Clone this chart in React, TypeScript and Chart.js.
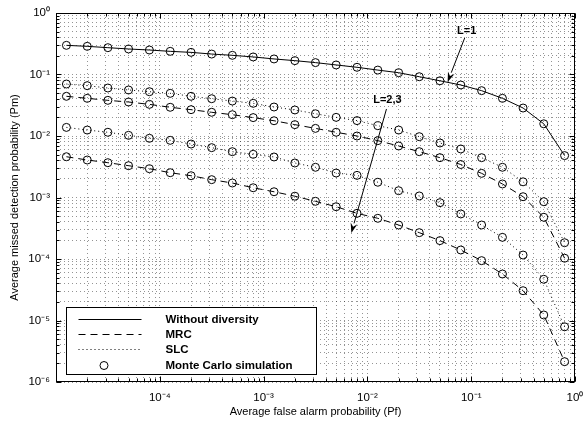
import React, { useEffect, useRef } from 'react';
import { Chart, registerables } from 'chart.js';

Chart.register(...registerables);

// Average false alarm probability (Pf) — sample points
const pf = [
  1.26e-5, 2.0e-5, 3.16e-5, 5.0e-5, 7.94e-5,
  1.26e-4, 2.0e-4, 3.16e-4, 5.0e-4, 7.94e-4,
  1.26e-3, 2.0e-3, 3.16e-3, 5.0e-3, 7.94e-3,
  1.26e-2, 2.0e-2, 3.16e-2, 5.0e-2, 7.94e-2,
  0.126, 0.2, 0.316, 0.5, 0.794,
];

// Average missed detection probability (Pm)
const pmWithoutDiversity = [
  0.298, 0.287, 0.273, 0.26, 0.25, 0.238, 0.229, 0.215, 0.205, 0.193,
  0.179, 0.168, 0.156, 0.143, 0.131, 0.118, 0.107, 0.092, 0.079, 0.0675,
  0.0546, 0.041, 0.0285, 0.0158, 0.0048,
];
const pmMrcL2 = [
  0.0442, 0.041, 0.038, 0.0357, 0.0327, 0.0293, 0.0268, 0.0243, 0.0222, 0.0199,
  0.0177, 0.0153, 0.0133, 0.0115, 0.01, 0.0084, 0.00688, 0.00556, 0.00444, 0.00344,
  0.00247, 0.00166, 0.00103, 0.000477, 0.000103,
];
const pmSlcL2 = [
  0.07, 0.0658, 0.0603, 0.056, 0.0525, 0.0494, 0.0442, 0.0404, 0.037, 0.034,
  0.0296, 0.0265, 0.023, 0.0201, 0.0178, 0.0147, 0.0125, 0.00975, 0.0077, 0.00615,
  0.00444, 0.0031, 0.0018, 0.000855, 0.000184,
];
const pmMrcL3 = [
  0.0046, 0.00407, 0.00368, 0.00329, 0.00294, 0.00253, 0.00226, 0.00195, 0.00172, 0.00144,
  0.00124, 0.00105, 0.000867, 0.000708, 0.000553, 0.000459, 0.000357, 0.000268, 0.000199, 0.00014,
  0.000094, 0.000057, 0.0000305, 0.0000123, 0.00000214,
];
const pmSlcL3 = [
  0.0138, 0.0125, 0.0115, 0.01026, 0.00918, 0.0085, 0.0074, 0.00646, 0.00556, 0.00504,
  0.00456, 0.00364, 0.0031, 0.0025, 0.00229, 0.00177, 0.00129, 0.00106, 0.000824, 0.00054,
  0.000357, 0.000225, 0.000116, 0.0000468, 0.0000079,
];

const legendLabels = ['Without diversity', 'MRC', 'SLC', 'Monte Carlo simulation'];
const xTitle = 'Average false alarm probability (Pf)';
const yTitle = 'Average missed detection probability (Pm)';

// annotations (data coordinates)
const annotations = [
  { text: 'L=1', x: 0.0905, y: 0.51, tailX: 0.0865, tailY: 0.392, tipX: 0.0593, tipY: 0.0755 },
  { text: 'L=2,3', x: 0.0156, y: 0.0385, tailX: 0.01527, tailY: 0.0275, tipX: 0.007, tipY: 0.000265 },
];

const FONT = '"Liberation Sans", Arial, Helvetica, sans-serif';
const SUP: Record<string, string> = {
  '-': '\u207B', '0': '\u2070', '1': '\u00B9', '2': '\u00B2', '3': '\u00B3',
  '4': '\u2074', '5': '\u2075', '6': '\u2076', '7': '\u2077', '8': '\u2078', '9': '\u2079',
};
const powLabel = (e: number) => '10' + String(e).split('').map((c) => SUP[c]).join('');

function logTicks(min: number, max: number) {
  const out: { value: number }[] = [];
  const e0 = Math.floor(Math.log10(min) + 1e-9);
  const e1 = Math.ceil(Math.log10(max) - 1e-9);
  for (let e = e0; e <= e1; e++) {
    for (let m = 1; m <= 9; m++) {
      const v = parseFloat((m * Math.pow(10, e)).toPrecision(6));
      if (v >= min * (1 - 1e-9) && v <= max * (1 + 1e-9)) out.push({ value: v });
    }
  }
  return out;
}
const isPow10 = (v: number) => {
  const e = Math.log10(v);
  return Math.abs(e - Math.round(e)) < 1e-6;
};

const line = (y: number[], dash: number[], label: string) => ({
  label,
  data: pf.map((x, i) => ({ x, y: y[i] })),
  borderColor: '#000',
  borderWidth: 1,
  borderDash: dash,
  pointRadius: 4,
  pointHoverRadius: 4,
  pointBorderColor: '#000',
  pointBackgroundColor: 'rgba(0,0,0,0)',
  pointBorderWidth: 1,
  tension: 0,
  fill: false,
});

const DASH = [7, 5];
const DOT = [1, 3];

const decorPlugin = {
  id: 'decor',
  afterDatasetsDraw(chart: any) {
    const { ctx, chartArea: ca, scales } = chart;
    const xs = scales.x;
    const ys = scales.y;
    ctx.save();
    // box
    ctx.strokeStyle = '#000';
    ctx.lineWidth = 1;
    ctx.setLineDash([]);
    const L = Math.round(ca.left) + 0.5, R = Math.round(ca.right) - 0.5;
    const T = Math.round(ca.top) + 0.5, B = Math.round(ca.bottom) - 0.5;
    ctx.strokeRect(L, T, R - L, B - T);
    // inward ticks
    ctx.beginPath();
    for (const t of xs.ticks) {
      const px = Math.round(xs.getPixelForValue(t.value)) + 0.5;
      const len = isPow10(t.value) ? 5 : 3;
      ctx.moveTo(px, B); ctx.lineTo(px, B - len);
      ctx.moveTo(px, T); ctx.lineTo(px, T + len);
    }
    for (const t of ys.ticks) {
      const py = Math.round(ys.getPixelForValue(t.value)) + 0.5;
      const len = isPow10(t.value) ? 5 : 3;
      ctx.moveTo(L, py); ctx.lineTo(L + len, py);
      ctx.moveTo(R, py); ctx.lineTo(R - len, py);
    }
    ctx.stroke();

    // annotations with arrows
    ctx.fillStyle = '#000';
    ctx.font = `bold 11px ${FONT}`;
    ctx.textAlign = 'center';
    ctx.textBaseline = 'middle';
    for (const a of annotations) {
      ctx.fillText(a.text, xs.getPixelForValue(a.x), ys.getPixelForValue(a.y));
      const x0 = xs.getPixelForValue(a.tailX), y0 = ys.getPixelForValue(a.tailY);
      const x1 = xs.getPixelForValue(a.tipX), y1 = ys.getPixelForValue(a.tipY);
      const ang = Math.atan2(y1 - y0, x1 - x0);
      const hl = 10, hw = 3.5;
      const bx = x1 - hl * Math.cos(ang), by = y1 - hl * Math.sin(ang);
      ctx.beginPath();
      ctx.moveTo(x0, y0);
      ctx.lineTo(bx, by);
      ctx.stroke();
      ctx.beginPath();
      ctx.moveTo(x1, y1);
      ctx.lineTo(bx + hw * Math.sin(ang), by - hw * Math.cos(ang));
      ctx.lineTo(bx + 0.35 * hl * Math.cos(ang), by + 0.35 * hl * Math.sin(ang));
      ctx.lineTo(bx - hw * Math.sin(ang), by + hw * Math.cos(ang));
      ctx.closePath();
      ctx.fill();
    }

    // legend
    const bl = Math.round(ca.left) + 10.5;
    const bt = Math.round(ca.bottom) - 74.5;
    const bw = 250, bh = 67;
    ctx.fillStyle = '#fff';
    ctx.fillRect(bl, bt, bw, bh);
    ctx.strokeStyle = '#000';
    ctx.lineWidth = 1;
    ctx.strokeRect(bl, bt, bw, bh);
    const rows = [11.5, 26.7, 41.9, 57.1];
    const dashes = [[], DASH, DOT];
    ctx.font = `bold 11.5px ${FONT}`;
    ctx.textAlign = 'left';
    ctx.textBaseline = 'middle';
    legendLabels.forEach((lab, i) => {
      const yy = Math.round(bt + rows[i]) + 0.5;
      ctx.strokeStyle = '#000';
      if (i < 3) {
        ctx.setLineDash(dashes[i]);
        ctx.beginPath();
        ctx.moveTo(bl + 12, yy);
        ctx.lineTo(bl + 75, yy);
        ctx.stroke();
        ctx.setLineDash([]);
      } else {
        ctx.beginPath();
        ctx.arc(bl + 37.5, yy, 4, 0, Math.PI * 2);
        ctx.stroke();
      }
      ctx.fillStyle = '#000';
      ctx.fillText(lab, bl + 99, yy + 0.5);
    });
    ctx.restore();
  },
};

export default function App() {
  const ref = useRef<HTMLCanvasElement | null>(null);
  useEffect(() => {
    const canvas = ref.current;
    if (!canvas) return;
    const gridCommon = {
      display: true,
      color: 'rgba(0,0,0,0.42)',
      lineWidth: 1,
      drawTicks: false,
    };
    const chart = new Chart(canvas, {
      type: 'line',
      data: {
        datasets: [
          line(pmWithoutDiversity, [], 'Without diversity (L=1)'),
          line(pmSlcL2, DOT, 'SLC (L=2)'),
          line(pmMrcL2, DASH, 'MRC (L=2)'),
          line(pmSlcL3, DOT, 'SLC (L=3)'),
          line(pmMrcL3, DASH, 'MRC (L=3)'),
        ],
      },
      options: {
        animation: false,
        responsive: false,
        devicePixelRatio: 1,
        events: [],
        layout: { padding: { left: 0, right: 9, top: 13, bottom: 0 } },
        plugins: { legend: { display: false }, tooltip: { enabled: false } },
        scales: {
          x: {
            type: 'logarithmic',
            min: 1e-5,
            max: 1,
            offset: false,
            afterBuildTicks: (s: any) => { s.ticks = logTicks(1e-5, 1); },
            afterFit: (s: any) => {
              s.height = 42;
              s.paddingLeft = 0;
              s.paddingRight = 0;
            },
            grid: gridCommon,
            border: { display: false, dash: [1, 3] },
            ticks: {
              autoSkip: false,
              maxRotation: 0,
              minRotation: 0,
              padding: 9,
              color: '#000',
              font: { family: FONT, size: 11.5 },
              callback: (v: any) => {
                const n = Number(v);
                if (!isPow10(n)) return '';
                const e = Math.round(Math.log10(n));
                return e <= -5 ? '' : powLabel(e);
              },
            },
            title: {
              display: true,
              text: xTitle,
              color: '#000',
              font: { family: FONT, size: 11 },
              padding: { top: 4, bottom: 5 },
            },
          },
          y: {
            type: 'logarithmic',
            min: 1e-6,
            max: 1,
            afterBuildTicks: (s: any) => { s.ticks = logTicks(1e-6, 1); },
            afterFit: (s: any) => {
              s.width = 56;
              s.paddingTop = 0;
              s.paddingBottom = 0;
            },
            grid: gridCommon,
            border: { display: false, dash: [1, 3] },
            ticks: {
              autoSkip: false,
              padding: 6,
              color: '#000',
              font: { family: FONT, size: 11.5 },
              callback: (v: any) => {
                const n = Number(v);
                if (!isPow10(n)) return '';
                return powLabel(Math.round(Math.log10(n)));
              },
            },
            title: {
              display: true,
              text: yTitle,
              color: '#000',
              font: { family: FONT, size: 11 },
              padding: { top: 8, bottom: 4 },
            },
          },
        },
      },
      plugins: [decorPlugin],
    } as any);
    return () => chart.destroy();
  }, []);
  return (
    <div style={{ position: 'fixed', left: 0, top: 0, width: 584, height: 424, background: '#fff' }}>
      <canvas ref={ref} width={584} height={424} style={{ display: 'block', width: 584, height: 424 }} />
    </div>
  );
}
